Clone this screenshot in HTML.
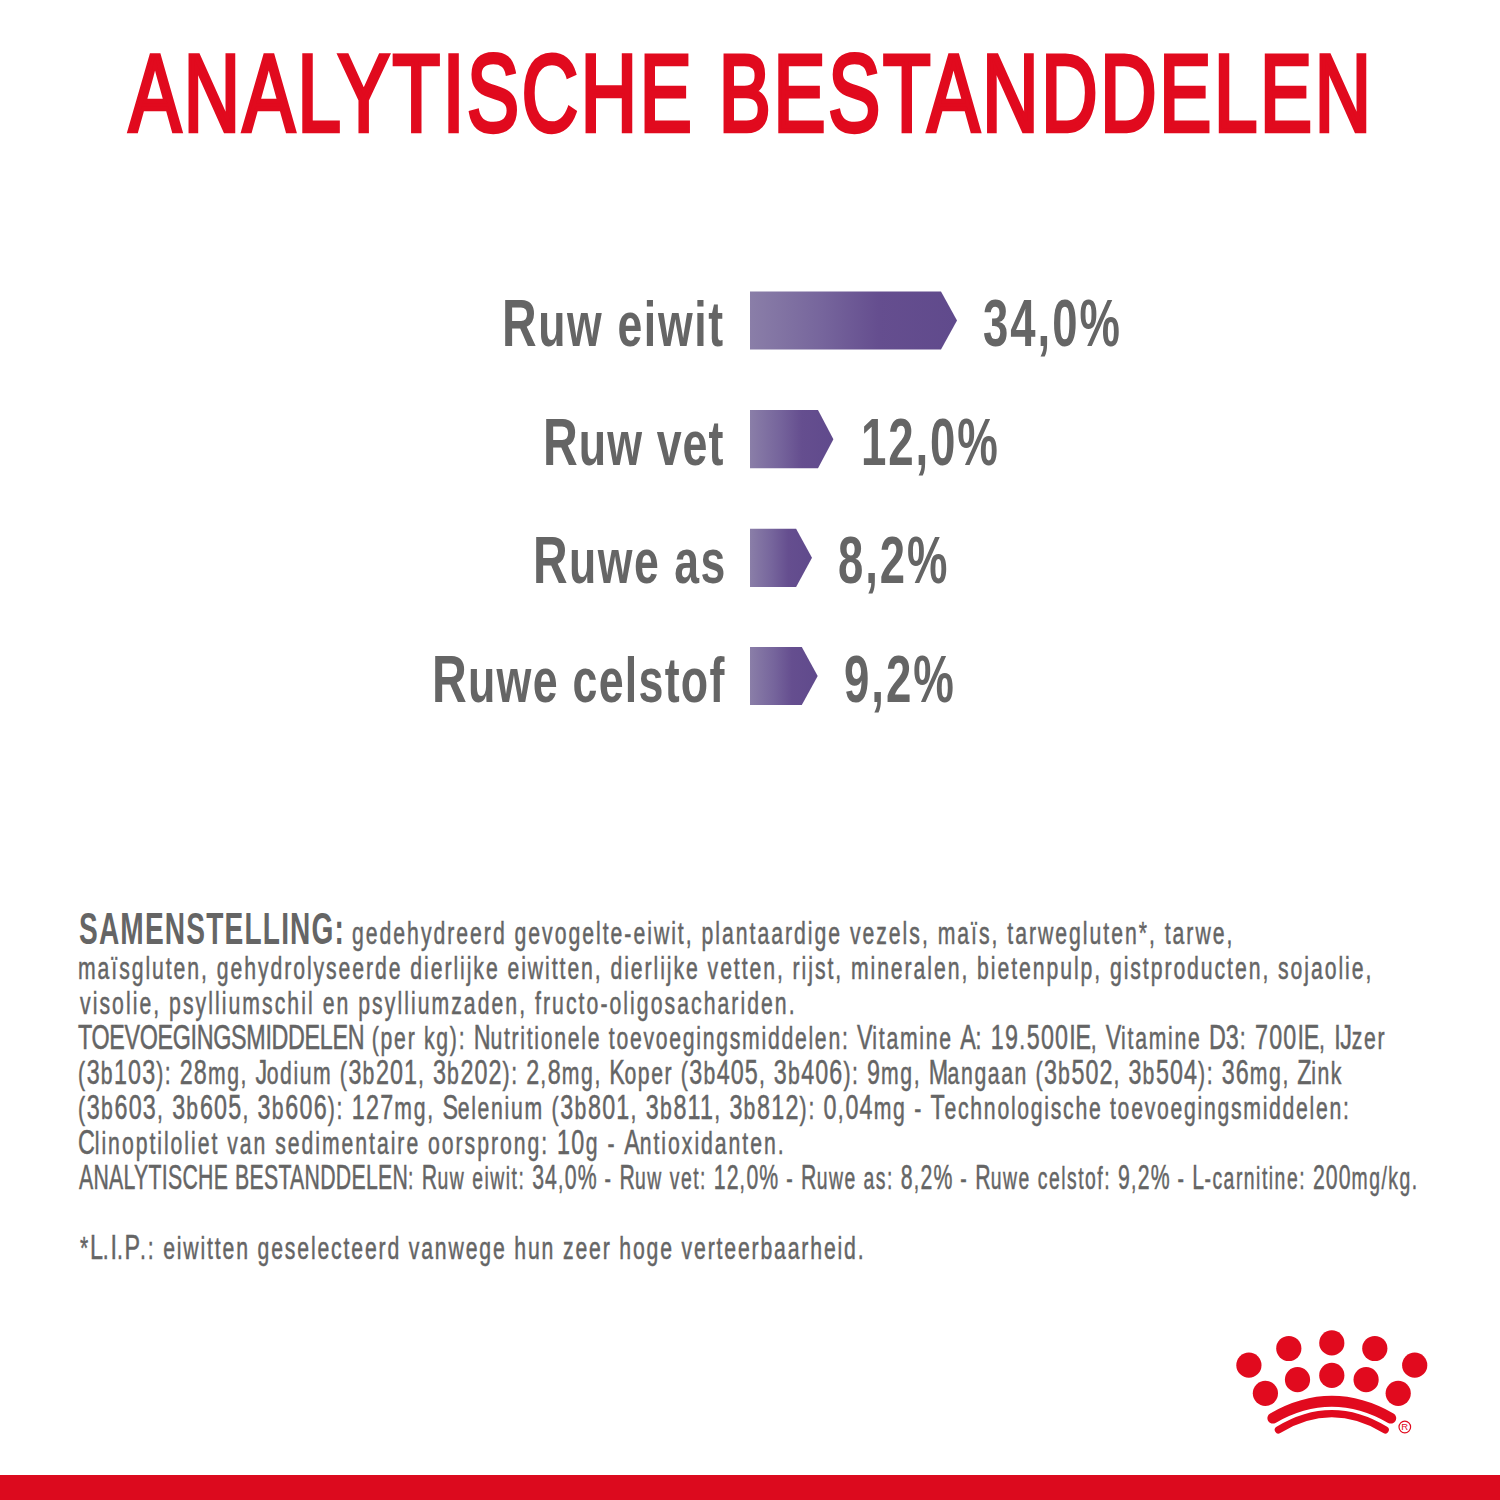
<!DOCTYPE html>
<html><head><meta charset="utf-8"><style>
html,body{margin:0;padding:0;background:#fff;}
body{width:1500px;height:1500px;position:relative;overflow:hidden;font-family:"Liberation Sans",sans-serif;}
.t{position:absolute;white-space:nowrap;transform-origin:0 0;margin:0;padding:0;}
.t span{line-height:0;}
</style></head><body>
<div class="t" style="left:128.87px;top:39.38px;font-size:109.74px;line-height:109.74px;font-weight:400;color:#e10a1e;transform:scaleX(0.7100);letter-spacing:3.849px;-webkit-text-stroke:4.5px #e10a1e;">ANALYTISCHE BESTANDDELEN</div>
<div class="t" style="left:502.08px;top:289.99px;font-size:66.86px;line-height:66.86px;font-weight:700;color:#656565;transform:scaleX(0.7170);letter-spacing:2.284px;">R<span style="font-size:0.93em">uw eiwit</span></div>
<div class="t" style="left:542.75px;top:408.14px;font-size:67.15px;line-height:67.15px;font-weight:700;color:#656565;transform:scaleX(0.7170);letter-spacing:1.484px;">R<span style="font-size:0.93em">uw vet</span></div>
<div class="t" style="left:532.50px;top:526.99px;font-size:66.86px;line-height:66.86px;font-weight:700;color:#656565;transform:scaleX(0.7170);letter-spacing:2.089px;">R<span style="font-size:0.93em">uwe as</span></div>
<div class="t" style="left:431.50px;top:645.14px;font-size:67.15px;line-height:67.15px;font-weight:700;color:#656565;transform:scaleX(0.7170);letter-spacing:1.744px;">R<span style="font-size:0.93em">uwe celstof</span></div>
<div class="t" style="left:983.37px;top:289.99px;font-size:66.86px;line-height:66.86px;font-weight:700;color:#656565;transform:scaleX(0.6800);letter-spacing:2.976px;">34,0%</div>
<div class="t" style="left:860.84px;top:408.14px;font-size:67.15px;line-height:67.15px;font-weight:700;color:#656565;transform:scaleX(0.6800);letter-spacing:2.688px;">12,0%</div>
<div class="t" style="left:838.16px;top:526.99px;font-size:66.86px;line-height:66.86px;font-weight:700;color:#656565;transform:scaleX(0.6800);letter-spacing:2.847px;">8,2%</div>
<div class="t" style="left:843.54px;top:645.14px;font-size:67.15px;line-height:67.15px;font-weight:700;color:#656565;transform:scaleX(0.6800);letter-spacing:2.864px;">9,2%</div>
<div class="t" style="left:78.50px;top:906.63px;font-size:43.90px;line-height:43.90px;font-weight:700;color:#656565;transform:scaleX(0.6400);letter-spacing:1.835px;">SAMENSTELLING:</div>
<div class="t" style="left:351.76px;top:914.96px;font-size:34.30px;line-height:34.30px;font-weight:400;color:#656565;transform:scaleX(0.6800);letter-spacing:2.908px;-webkit-text-stroke:0.5px #656565;"><span style="font-size:0.91em">gedehydreerd gevogelte-eiwit, plantaardige vezels, maïs, tarwegluten*, tarwe,</span></div>
<div class="t" style="left:78.40px;top:949.96px;font-size:34.30px;line-height:34.30px;font-weight:400;color:#656565;transform:scaleX(0.6800);letter-spacing:2.836px;-webkit-text-stroke:0.5px #656565;"><span style="font-size:0.91em">maïsgluten, gehydrolyseerde dierlijke eiwitten, dierlijke vetten, rijst, mineralen, bietenpulp, gistproducten, sojaolie,</span></div>
<div class="t" style="left:79.53px;top:984.96px;font-size:34.30px;line-height:34.30px;font-weight:400;color:#656565;transform:scaleX(0.6800);letter-spacing:2.999px;-webkit-text-stroke:0.5px #656565;"><span style="font-size:0.91em">visolie, psylliumschil en psylliumzaden, fructo-oligosachariden.</span></div>
<div class="t" style="left:78.09px;top:1019.96px;font-size:34.30px;line-height:34.30px;font-weight:400;color:#656565;transform:scaleX(0.6800);letter-spacing:2.518px;-webkit-text-stroke:0.5px #656565;"><span style="letter-spacing:-0.482px">TOEVOEGINGSMIDDELEN</span><span style="font-size:0.91em"> (per kg): </span><span style="letter-spacing:-0.482px">N</span><span style="font-size:0.91em">utritionele toevoegingsmiddelen: </span><span style="letter-spacing:-0.482px">V</span><span style="font-size:0.91em">itamine </span><span style="letter-spacing:-0.482px">A</span><span style="font-size:0.91em">: </span><span style="letter-spacing:1.768px">19</span><span style="font-size:0.91em">.</span><span style="letter-spacing:1.768px">500</span><span style="letter-spacing:-0.482px">IE</span><span style="font-size:0.91em">, </span><span style="letter-spacing:-0.482px">V</span><span style="font-size:0.91em">itamine </span><span style="letter-spacing:-0.482px">D</span><span style="letter-spacing:1.768px">3</span><span style="font-size:0.91em">: </span><span style="letter-spacing:1.768px">700</span><span style="letter-spacing:-0.482px">IE</span><span style="font-size:0.91em">, </span><span style="letter-spacing:-0.482px">IJ</span><span style="font-size:0.91em">zer</span></div>
<div class="t" style="left:78.30px;top:1054.96px;font-size:34.30px;line-height:34.30px;font-weight:400;color:#656565;transform:scaleX(0.6800);letter-spacing:2.322px;-webkit-text-stroke:0.5px #656565;"><span style="font-size:0.91em">(</span><span style="letter-spacing:1.572px">3</span><span style="font-size:0.91em">b</span><span style="letter-spacing:1.572px">103</span><span style="font-size:0.91em">): </span><span style="letter-spacing:1.572px">28</span><span style="font-size:0.91em">mg, </span><span style="letter-spacing:-0.678px">J</span><span style="font-size:0.91em">odium (</span><span style="letter-spacing:1.572px">3</span><span style="font-size:0.91em">b</span><span style="letter-spacing:1.572px">201</span><span style="font-size:0.91em">, </span><span style="letter-spacing:1.572px">3</span><span style="font-size:0.91em">b</span><span style="letter-spacing:1.572px">202</span><span style="font-size:0.91em">): </span><span style="letter-spacing:1.572px">2</span><span style="font-size:0.91em">,</span><span style="letter-spacing:1.572px">8</span><span style="font-size:0.91em">mg, </span><span style="letter-spacing:-0.678px">K</span><span style="font-size:0.91em">oper (</span><span style="letter-spacing:1.572px">3</span><span style="font-size:0.91em">b</span><span style="letter-spacing:1.572px">405</span><span style="font-size:0.91em">, </span><span style="letter-spacing:1.572px">3</span><span style="font-size:0.91em">b</span><span style="letter-spacing:1.572px">406</span><span style="font-size:0.91em">): </span><span style="letter-spacing:1.572px">9</span><span style="font-size:0.91em">mg, </span><span style="letter-spacing:-0.678px">M</span><span style="font-size:0.91em">angaan (</span><span style="letter-spacing:1.572px">3</span><span style="font-size:0.91em">b</span><span style="letter-spacing:1.572px">502</span><span style="font-size:0.91em">, </span><span style="letter-spacing:1.572px">3</span><span style="font-size:0.91em">b</span><span style="letter-spacing:1.572px">504</span><span style="font-size:0.91em">): </span><span style="letter-spacing:1.572px">36</span><span style="font-size:0.91em">mg, </span><span style="letter-spacing:-0.678px">Z</span><span style="font-size:0.91em">ink</span></div>
<div class="t" style="left:78.10px;top:1089.96px;font-size:34.30px;line-height:34.30px;font-weight:400;color:#656565;transform:scaleX(0.6800);letter-spacing:2.514px;-webkit-text-stroke:0.5px #656565;"><span style="font-size:0.91em">(</span><span style="letter-spacing:1.764px">3</span><span style="font-size:0.91em">b</span><span style="letter-spacing:1.764px">603</span><span style="font-size:0.91em">, </span><span style="letter-spacing:1.764px">3</span><span style="font-size:0.91em">b</span><span style="letter-spacing:1.764px">605</span><span style="font-size:0.91em">, </span><span style="letter-spacing:1.764px">3</span><span style="font-size:0.91em">b</span><span style="letter-spacing:1.764px">606</span><span style="font-size:0.91em">): </span><span style="letter-spacing:1.764px">127</span><span style="font-size:0.91em">mg, </span><span style="letter-spacing:-0.486px">S</span><span style="font-size:0.91em">elenium (</span><span style="letter-spacing:1.764px">3</span><span style="font-size:0.91em">b</span><span style="letter-spacing:1.764px">801</span><span style="font-size:0.91em">, </span><span style="letter-spacing:1.764px">3</span><span style="font-size:0.91em">b</span><span style="letter-spacing:1.764px">811</span><span style="font-size:0.91em">, </span><span style="letter-spacing:1.764px">3</span><span style="font-size:0.91em">b</span><span style="letter-spacing:1.764px">812</span><span style="font-size:0.91em">): </span><span style="letter-spacing:1.764px">0</span><span style="font-size:0.91em">,</span><span style="letter-spacing:1.764px">04</span><span style="font-size:0.91em">mg - </span><span style="letter-spacing:-0.486px">T</span><span style="font-size:0.91em">echnologische toevoegingsmiddelen:</span></div>
<div class="t" style="left:78.00px;top:1124.96px;font-size:34.30px;line-height:34.30px;font-weight:400;color:#656565;transform:scaleX(0.6800);letter-spacing:2.884px;-webkit-text-stroke:0.5px #656565;"><span style="letter-spacing:-0.116px">C</span><span style="font-size:0.91em">linoptiloliet van sedimentaire oorsprong: </span><span style="letter-spacing:2.134px">10</span><span style="font-size:0.91em">g - </span><span style="letter-spacing:-0.116px">A</span><span style="font-size:0.91em">ntioxidanten.</span></div>
<div class="t" style="left:79.38px;top:1159.96px;font-size:34.30px;line-height:34.30px;font-weight:400;color:#656565;transform:scaleX(0.6200);letter-spacing:2.441px;-webkit-text-stroke:0.5px #656565;"><span style="letter-spacing:0.441px">ANALYTISCHE</span><span style="font-size:0.91em"> </span><span style="letter-spacing:0.441px">BESTANDDELEN</span><span style="font-size:0.91em">: </span><span style="letter-spacing:0.441px">R</span><span style="font-size:0.91em">uw eiwit: </span><span style="letter-spacing:1.691px">34</span><span style="font-size:0.91em">,</span><span style="letter-spacing:1.691px">0%</span><span style="font-size:0.91em"> - </span><span style="letter-spacing:0.441px">R</span><span style="font-size:0.91em">uw vet: </span><span style="letter-spacing:1.691px">12</span><span style="font-size:0.91em">,</span><span style="letter-spacing:1.691px">0%</span><span style="font-size:0.91em"> - </span><span style="letter-spacing:0.441px">R</span><span style="font-size:0.91em">uwe as: </span><span style="letter-spacing:1.691px">8</span><span style="font-size:0.91em">,</span><span style="letter-spacing:1.691px">2%</span><span style="font-size:0.91em"> - </span><span style="letter-spacing:0.441px">R</span><span style="font-size:0.91em">uwe celstof: </span><span style="letter-spacing:1.691px">9</span><span style="font-size:0.91em">,</span><span style="letter-spacing:1.691px">2%</span><span style="font-size:0.91em"> - </span><span style="letter-spacing:0.441px">L</span><span style="font-size:0.91em">-carnitine: </span><span style="letter-spacing:1.691px">200</span><span style="font-size:0.91em">mg/kg.</span></div>
<div class="t" style="left:79.51px;top:1229.96px;font-size:34.30px;line-height:34.30px;font-weight:400;color:#656565;transform:scaleX(0.6800);letter-spacing:2.700px;-webkit-text-stroke:0.5px #656565;"><span style="font-size:0.91em">*</span><span style="letter-spacing:-0.300px">L</span><span style="font-size:0.91em">.</span><span style="letter-spacing:-0.300px">I</span><span style="font-size:0.91em">.</span><span style="letter-spacing:-0.300px">P</span><span style="font-size:0.91em">.: eiwitten geselecteerd vanwege hun zeer hoge verteerbaarheid.</span></div>
<svg width="1500" height="1500" style="position:absolute;left:0;top:0"><defs><linearGradient id="g0" gradientUnits="userSpaceOnUse" x1="750" y1="0" x2="957" y2="0"><stop offset="0" stop-color="#8a7ea8"/><stop offset="0.35" stop-color="#76659c"/><stop offset="0.62" stop-color="#654e8f"/><stop offset="1" stop-color="#604a8c"/></linearGradient><linearGradient id="g1" gradientUnits="userSpaceOnUse" x1="750" y1="0" x2="833.4" y2="0"><stop offset="0" stop-color="#8a7ea8"/><stop offset="0.35" stop-color="#76659c"/><stop offset="0.62" stop-color="#654e8f"/><stop offset="1" stop-color="#604a8c"/></linearGradient><linearGradient id="g2" gradientUnits="userSpaceOnUse" x1="750" y1="0" x2="812" y2="0"><stop offset="0" stop-color="#8a7ea8"/><stop offset="0.35" stop-color="#76659c"/><stop offset="0.62" stop-color="#654e8f"/><stop offset="1" stop-color="#604a8c"/></linearGradient><linearGradient id="g3" gradientUnits="userSpaceOnUse" x1="750" y1="0" x2="817.7" y2="0"><stop offset="0" stop-color="#8a7ea8"/><stop offset="0.35" stop-color="#76659c"/><stop offset="0.62" stop-color="#654e8f"/><stop offset="1" stop-color="#604a8c"/></linearGradient></defs><polygon points="750,291.6 941,291.6 957,320.55 941,349.5 750,349.5" fill="url(#g0)"/><polygon points="750,410 818,410 833.4,439.15 818,468.3 750,468.3" fill="url(#g1)"/><polygon points="750,528.7 796.1,528.7 812,557.8 796.1,586.9 750,586.9" fill="url(#g2)"/><polygon points="750,647 801.8,647 817.7,675.95 801.8,704.9 750,704.9" fill="url(#g3)"/><g fill="#e10a1e"><circle cx="1331.80" cy="1342.9" r="12.6"/><circle cx="1288.80" cy="1348.5" r="12.6"/><circle cx="1374.80" cy="1348.5" r="12.6"/><circle cx="1248.90" cy="1365.2" r="12.6"/><circle cx="1414.70" cy="1365.2" r="12.6"/><circle cx="1331.80" cy="1375.4" r="12.6"/><circle cx="1297.50" cy="1379.7" r="12.6"/><circle cx="1366.10" cy="1379.7" r="12.6"/><circle cx="1265.40" cy="1393.3" r="12.6"/><circle cx="1398.20" cy="1393.3" r="12.6"/></g><path d="M1272.80,1418.2 Q1331.80,1384.40 1390.80,1418.2" fill="none" stroke="#e10a1e" stroke-width="10.8" stroke-linecap="round"/><path d="M1278.40,1429.8 Q1331.80,1397.40 1385.20,1429.8" fill="none" stroke="#e10a1e" stroke-width="7.3" stroke-linecap="round"/><circle cx="1404.8" cy="1427" r="5.8" fill="none" stroke="#e10a1e" stroke-width="1.2"/><text x="1404.8" y="1430.4" font-family="Liberation Sans" font-size="9.5" font-weight="400" fill="#e10a1e" text-anchor="middle">R</text><rect x="0" y="1475" width="1500" height="25" fill="#dc0a1e"/></svg>
</body></html>
